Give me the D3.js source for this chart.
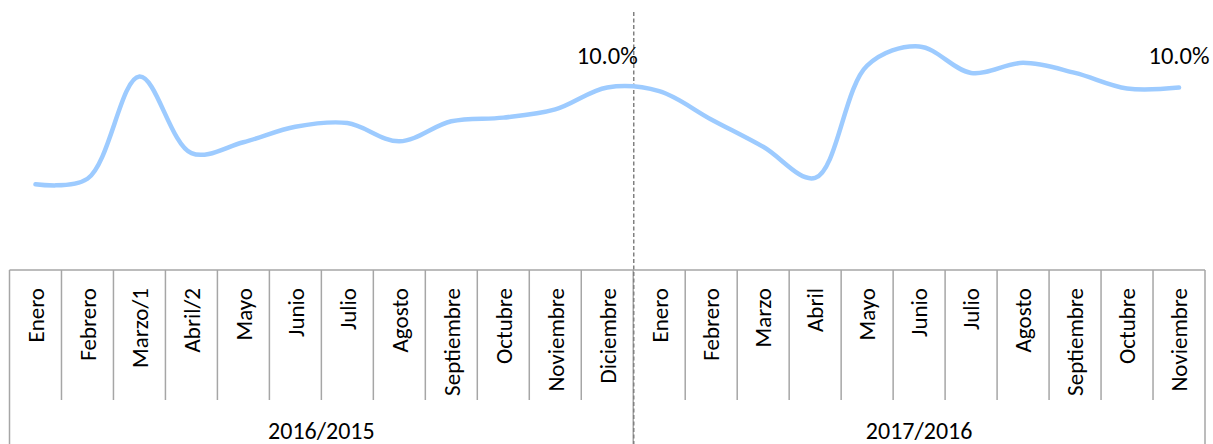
<!DOCTYPE html>
<html>
<head>
<meta charset="utf-8">
<script src="https://cdn.jsdelivr.net/npm/d3@7"></script>
<style>
  body { margin: 0; background: #fff; }
  svg { display: block; }
</style>
</head>
<body>
<script>
// datos: meses (dos periodos) y valores en %
var meses = ["Enero", "Febrero", "Marzo/1", "Abril/2", "Mayo", "Junio", "Julio", "Agosto",
    "Septiembre", "Octubre", "Noviembre", "Diciembre",
    "Enero", "Febrero", "Marzo", "Abril", "Mayo", "Junio", "Julio", "Agosto",
    "Septiembre", "Octubre", "Noviembre"];
var valores = [4.7, 5.0, 10.6, 6.4, 7.0, 7.85, 8.05, 7.05, 8.15, 8.35, 8.8, 10.0,
    9.8, 8.25, 6.75, 5.05, 11.2, 12.25, 10.8, 11.35, 10.8, 9.95, 10.0];
var periodos = ["2016/2015", "2017/2016"];
var mesesPorPeriodo = [12, 11];
var etiquetados = [11, 22];

var width = 1213, height = 444;
var left = 9.5, right = 1205, axisTop = 270, tickBottom = 400;

var svg = d3.select("body").append("svg")
    .attr("width", width)
    .attr("height", height);

var x = d3.scaleBand()
    .domain(d3.range(meses.length))
    .range([left, right])
    .padding(0);

var y = d3.scaleLinear()
    .domain([0, 14])
    .range([axisTop, 14.5]);

var cx = function (i) { return x(i) + x.bandwidth() / 2; };

var font = "Carlito, Calibri, Lato, sans-serif";
var gris = "#a6a6a6";

// caja del eje de categorias
var eje = svg.append("g")
    .attr("stroke", gris)
    .attr("stroke-width", 1.5)
    .attr("fill", "none");

eje.append("line")
    .attr("x1", left).attr("x2", right)
    .attr("y1", axisTop).attr("y2", axisTop);

// limites de los periodos (toda la altura)
var limites = [0];
mesesPorPeriodo.forEach(function (n, k) { limites.push(limites[k] + n); });

// separadores de meses
eje.selectAll("line.tick")
    .data(d3.range(1, meses.length).filter(function (i) { return limites.indexOf(i) < 0; }))
    .enter().append("line")
    .attr("class", "tick")
    .attr("x1", function (i) { return x(i); })
    .attr("x2", function (i) { return x(i); })
    .attr("y1", axisTop).attr("y2", tickBottom);

eje.selectAll("line.grp")
    .data(limites)
    .enter().append("line")
    .attr("class", "grp")
    .attr("x1", function (i) { return i < meses.length ? x(i) : right; })
    .attr("x2", function (i) { return i < meses.length ? x(i) : right; })
    .attr("y1", axisTop).attr("y2", height);

// etiquetas de meses (rotadas)
svg.append("g")
    .attr("font-family", font)
    .attr("font-size", 23)
    .attr("fill", "#000")
    .selectAll("text")
    .data(meses)
    .enter().append("text")
    .attr("text-anchor", "end")
    .attr("dy", "0.36em")
    .attr("transform", function (d, i) {
        return "translate(" + cx(i) + "," + 288 + ") rotate(-90)";
    })
    .text(function (d) { return d; });

// etiquetas de periodos
svg.append("g")
    .attr("font-family", font)
    .attr("font-size", 24)
    .attr("fill", "#000")
    .attr("text-anchor", "middle")
    .selectAll("text")
    .data(periodos)
    .enter().append("text")
    .attr("x", function (d, k) {
        var a = x(limites[k]);
        var b = limites[k + 1] < meses.length ? x(limites[k + 1]) : right;
        return (a + b) / 2;
    })
    .attr("y", 439)
    .text(function (d) { return d; });

// linea discontinua entre periodos
svg.append("line")
    .attr("x1", x(limites[1]) + 0.5).attr("x2", x(limites[1]) + 0.5)
    .attr("y1", 12).attr("y2", height)
    .attr("stroke", "#808080")
    .attr("stroke-width", 1.5)
    .attr("stroke-dasharray", "4,2.5");

// linea suavizada
var line = d3.line()
    .x(function (d, i) { return cx(i); })
    .y(function (d) { return y(d); })
    .curve(d3.curveCatmullRom.alpha(0.5));

svg.append("path")
    .datum(valores)
    .attr("fill", "none")
    .attr("stroke", "#9dcbff")
    .attr("stroke-width", 4.5)
    .attr("stroke-linecap", "round")
    .attr("stroke-linejoin", "round")
    .attr("d", line);

// etiquetas de datos
svg.append("g")
    .attr("font-family", font)
    .attr("font-size", 24.5)
    .attr("fill", "#000")
    .attr("text-anchor", "middle")
    .selectAll("text")
    .data(etiquetados)
    .enter().append("text")
    .attr("x", function (i) { return cx(i); })
    .attr("y", function (i) { return y(valores[i]) - 24; })
    .text(function (i) { return valores[i].toFixed(1) + "%"; });
</script>
</body>
</html>
